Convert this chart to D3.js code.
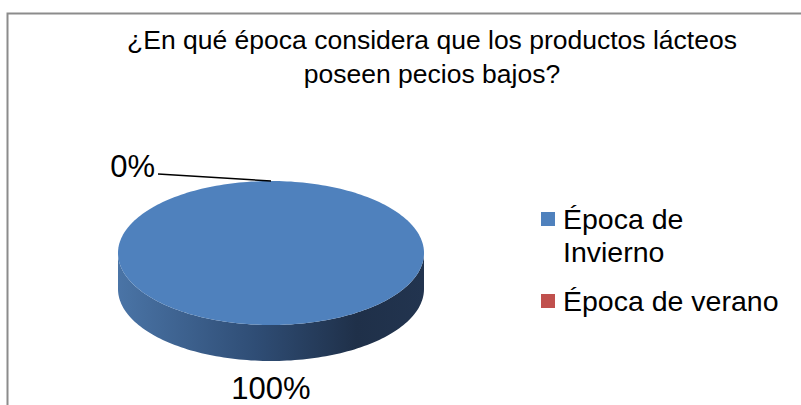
<!DOCTYPE html>
<html>
<head>
<meta charset="utf-8">
<script src="https://cdn.jsdelivr.net/npm/d3@7"></script>
<style>
  body { margin: 0; background: #fff; }
  text { font-family: "Liberation Sans", Arial, sans-serif; fill: #000; }
</style>
</head>
<body>
<div id="chart"></div>
<script>
// Chart data
const titleLines = ["¿En qué época considera que los productos lácteos", "poseen pecios bajos?"];
const categories = ["Época de Invierno", "Época de verano"];
const values = [100, 0];
const legendLines = [["Época de", "Invierno"], ["Época de verano"]];
const colors = ["#4F81BD", "#C0504D"];

const W = 801, H = 405;

const svg = d3.select("#chart")
    .append("svg")
    .attr("width", W)
    .attr("height", H);

// chart area frame (runs off the right and bottom edge)
svg.append("rect")
    .attr("x", 7.5).attr("y", 13.5)
    .attr("width", 820).attr("height", 420)
    .attr("fill", "#fff")
    .attr("stroke", "#8c8c8c")
    .attr("stroke-width", 2);

// title
svg.append("g")
    .selectAll("text")
    .data(titleLines)
    .join("text")
    .attr("x", 432)
    .attr("y", (d, i) => 49 + i * 34)
    .attr("text-anchor", "middle")
    .attr("font-size", "26.5px")
    .text(d => d);

// 3D pie geometry
const cx = 271, cy = 253, rx = 153, ry = 72, depth = 36;
const pt = (a, dy = 0) => [cx + rx * Math.sin(a), cy - ry * Math.cos(a) + dy];

const pie = d3.pie().sort(null).value(d => d)
    .startAngle(0).endAngle(2 * Math.PI);
const arcs = pie(values);

const defs = svg.append("defs");
const grad = defs.append("linearGradient")
    .attr("id", "side")
    .attr("x1", "0%").attr("x2", "100%").attr("y1", "0%").attr("y2", "0%");
grad.append("stop").attr("offset", "0%").attr("stop-color", "#4a74a6");
grad.append("stop").attr("offset", "45%").attr("stop-color", "#2f4d75");
grad.append("stop").attr("offset", "78%").attr("stop-color", "#1f3049");
grad.append("stop").attr("offset", "100%").attr("stop-color", "#22344f");

function sidePath(a0, a1) {
    // visible front wall is between PI/2 and 3PI/2
    const s = Math.max(a0, Math.PI / 2), e = Math.min(a1, 3 * Math.PI / 2);
    if (e <= s) return null;
    const pts = [];
    const n = 120;
    for (let i = 0; i <= n; i++) pts.push(pt(s + (e - s) * i / n));
    for (let i = n; i >= 0; i--) pts.push(pt(s + (e - s) * i / n, depth));
    return "M" + pts.map(p => p.join(",")).join("L") + "Z";
}

function topPath(a0, a1) {
    if (a1 - a0 <= 0) return null;
    const pts = [];
    const n = 240;
    for (let i = 0; i <= n; i++) pts.push(pt(a0 + (a1 - a0) * i / n));
    const full = a1 - a0 >= 2 * Math.PI - 1e-6;
    return "M" + (full ? "" : cx + "," + cy + "L") + pts.map(p => p.join(",")).join("L") + "Z";
}

const g = svg.append("g");
arcs.forEach((d, i) => {
    const sp = sidePath(d.startAngle, d.endAngle);
    if (sp) g.append("path").attr("d", sp).attr("fill", i === 0 ? "url(#side)" : d3.color(colors[i]).darker(1.2));
});
arcs.forEach((d, i) => {
    const tp = topPath(d.startAngle, d.endAngle);
    if (tp) g.append("path").attr("d", tp).attr("fill", colors[i]);
});

// data labels
const total = d3.sum(values);
const fmt = v => Math.round(v / total * 100) + "%";

// 0% slice sits at the top: label with leader line
const small = arcs[1];
const [lx, ly] = pt(small.startAngle);
svg.append("path")
    .attr("d", `M158,174L${lx},${ly}`)
    .attr("stroke", "#000")
    .attr("stroke-width", 1.5)
    .attr("fill", "none");
svg.append("text")
    .attr("x", 155).attr("y", 177)
    .attr("text-anchor", "end")
    .attr("font-size", "31px")
    .text(fmt(values[1]));

// 100% label below the pie
svg.append("text")
    .attr("x", cx).attr("y", cy + ry + depth + 38)
    .attr("text-anchor", "middle")
    .attr("font-size", "31px")
    .text(fmt(values[0]));

// legend
const legend = svg.append("g");
const legendTop = [212, 294];
categories.forEach((c, i) => {
    legend.append("rect")
        .attr("x", 541).attr("y", legendTop[i])
        .attr("width", 14).attr("height", 14)
        .attr("fill", colors[i]);
    legend.append("text")
        .attr("x", 563)
        .attr("font-size", "28.5px")
        .selectAll("tspan")
        .data(legendLines[i])
        .join("tspan")
        .attr("x", 563)
        .attr("y", (d, j) => legendTop[i] + 17 + j * 33)
        .text(d => d);
});
</script>
</body>
</html>
